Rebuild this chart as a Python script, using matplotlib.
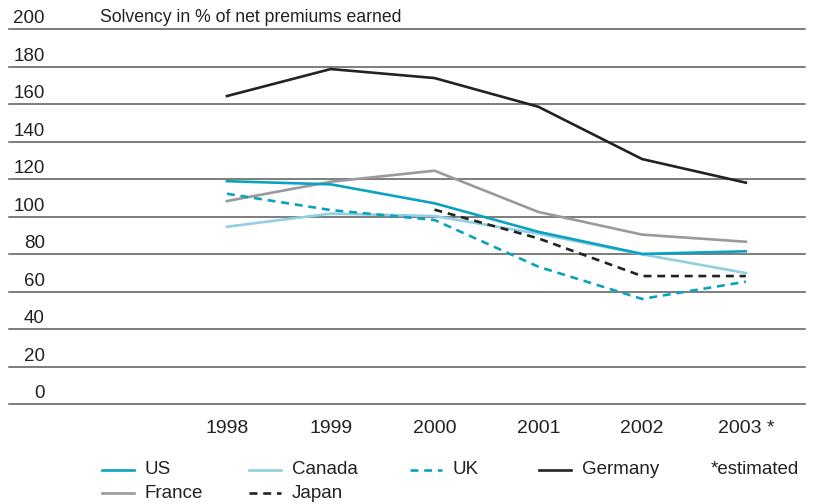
import numpy as np
import matplotlib.pyplot as plt
import matplotlib as mpl
from matplotlib.lines import Line2D
import matplotlib.transforms as mtransforms

mpl.rcParams["font.family"] = ["Liberation Sans", "DejaVu Sans"]

# data
years = [1998, 1999, 2000, 2001, 2002, 2003]
year_labels = ["1998", "1999", "2000", "2001", "2002", "2003 *"]
us = [119, 117.3, 107.2, 92, 80.2, 81.6]
canada = [94.7, 101.7, 100.4, 91, 80, 70]
uk = [112.3, 103.6, 98.3, 73.4, 56.2, 65.4]
germany = [164.4, 178.8, 174, 158.7, 130.8, 118.2]
france = [108.4, 118.7, 124.6, 102.6, 90.5, 86.7]
japan_years = [2000, 2001, 2002, 2003]
japan = [103.8, 88.5, 68.4, 68.4]
yticks = list(range(0, 201, 20))

teal = "#0aa3bf"
light = "#92cfe0"
grey = "#9a9a9a"
dark = "#222222"

W, H = 818, 504
fig = plt.figure(figsize=(W / 100, H / 100), dpi=100)
# axes placed so that 0..200 maps to the gridlines of the reference
ax = fig.add_axes([9 / W, (H - 404.3) / H, 796 / W, 375 / H])
ax.set_xlim(1995.9, 2003.57)
ax.set_ylim(0, 200)
for s in ax.spines.values():
    s.set_visible(False)

for v in yticks:
    ax.axhline(v, color="#5a5a5a", lw=1.1, zorder=1, clip_on=False)

lw = 1.9
ax.plot(years, germany, color=dark, lw=lw, zorder=3)
ax.plot(years, france, color=grey, lw=lw, zorder=3)
ax.plot(years, canada, color=light, lw=lw, zorder=3)
ax.plot(years, us, color=teal, lw=lw, zorder=4)
ax.plot(years, uk, color=teal, lw=lw, dashes=(3, 2.2), zorder=3)
ax.plot(japan_years, japan, color=dark, lw=lw, dashes=(3, 2.2), zorder=3)

# x ticks
ax.set_xticks(years, year_labels)
ax.tick_params(axis="x", length=0, pad=11, labelsize=14, colors="#222222")
ax.set_yticks([])

# y labels sit above their gridline, right aligned
trans = mtransforms.blended_transform_factory(fig.transFigure, ax.transData)
off = mtransforms.offset_copy(trans, fig=fig, y=2, units="dots")
for v in yticks:
    ax.text(45 / W, v, str(v), transform=off, ha="right", va="bottom",
            fontsize=13.5, color="#222222")

fig.text(100 / W, 1 - 22 / H, "Solvency in % of net premiums earned",
         fontsize=12.7, color="#222222", va="baseline")

# legend drawn by hand to match the loose grid of the reference
entries = [
    ("US", teal, "-", 102, 470),
    ("France", grey, "-", 102, 493),
    ("Canada", light, "-", 249, 470),
    ("Japan", dark, "--", 249, 493),
    ("UK", teal, "--", 410, 470),
    ("Germany", dark, "-", 539, 470),
]
for name, col, ls, x0, y0 in entries:
    yy = 1 - y0 / H
    kw = dict(dashes=(3, 2.2)) if ls == "--" else {}
    fig.add_artist(Line2D([x0 / W, (x0 + 32) / W], [yy, yy], color=col,
                          lw=lw, transform=fig.transFigure, **kw))
    fig.text((x0 + 43) / W, yy, name, fontsize=13.5, color="#222222", va="center")
fig.text(711 / W, 1 - 470 / H, "*estimated", fontsize=13.5, color="#222222",
         va="center")

fig.savefig("out.png", dpi=100)
